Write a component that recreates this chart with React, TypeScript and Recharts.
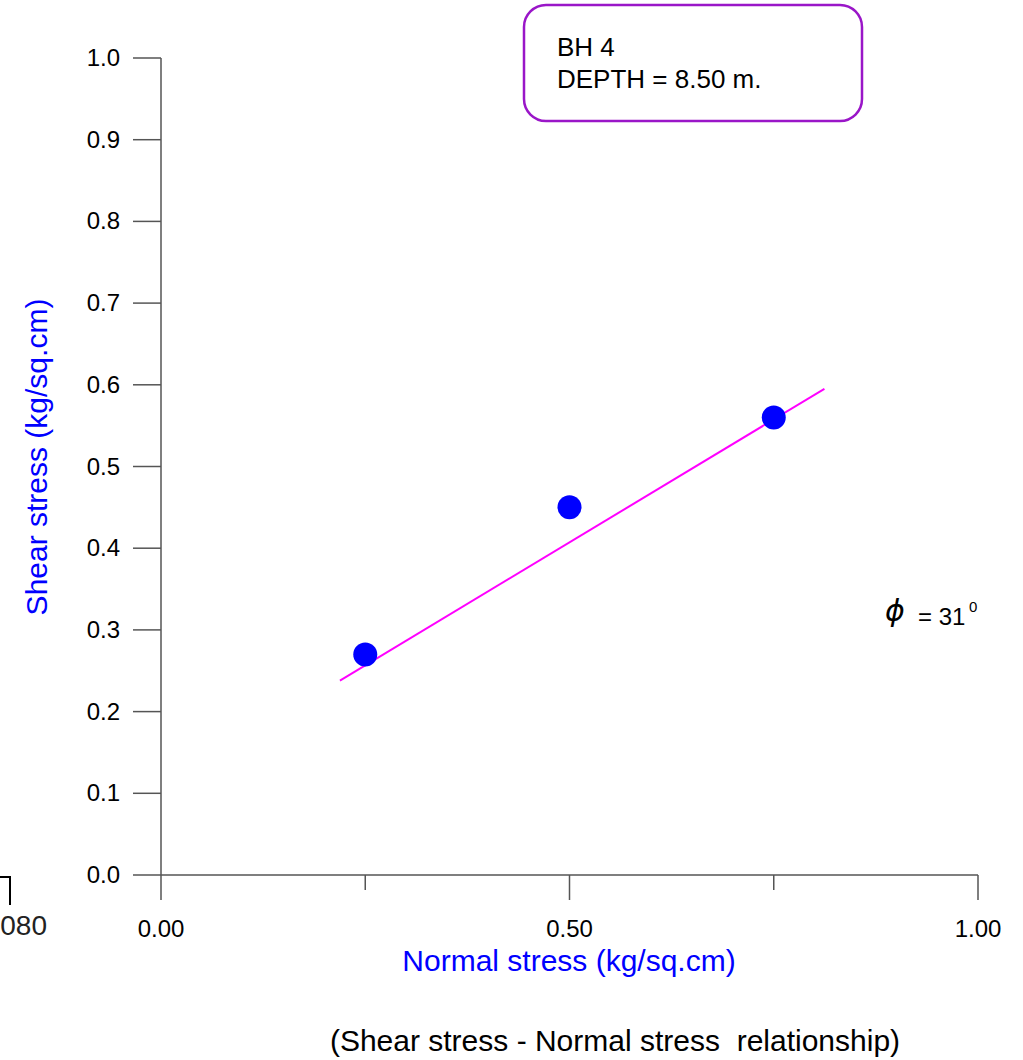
import { ComposedChart, Scatter, XAxis, YAxis, ReferenceLine } from 'recharts';

// Direct shear test results
const normalStress = [0.25, 0.5, 0.75];
const shearStress = [0.27, 0.45, 0.56];

// Failure envelope end points (phi = 31 deg)
const fitNormal = [0.219, 0.812];
const fitShear = [0.238, 0.595];

const xTicks = [0, 0.25, 0.5, 0.75, 1];
const xTickLabels = ['0.00', '', '0.50', '', '1.00'];
const yTicks = [0, 0.1, 0.2, 0.3, 0.4, 0.5, 0.6, 0.7, 0.8, 0.9, 1.0];
const yTickLabels = ['0.0', '0.1', '0.2', '0.3', '0.4', '0.5', '0.6', '0.7', '0.8', '0.9', '1.0'];

const FONT = '"Liberation Sans", Arial, sans-serif';
const AXIS = '#555';

const points = normalStress.map((x, i) => ({ x, y: shearStress[i] }));

const XTick = ({ x, y, index }: any) => {
  const label = xTickLabels[index] ?? '';
  const major = label !== '';
  return (
    <g>
      <line x1={x} y1={y} x2={x} y2={y + (major ? 25 : 15)} stroke={AXIS} strokeWidth={1.5} />
      {major && (
        <text x={x} y={y + 62} textAnchor="middle" fontSize={24} fontFamily={FONT} fill="#000">
          {label}
        </text>
      )}
    </g>
  );
};

const YTick = ({ x, y, index }: any) => (
  <g>
    <line x1={x - 28} y1={y} x2={x} y2={y} stroke={AXIS} strokeWidth={1.5} />
    <text x={x - 41} y={y + 8} textAnchor="end" fontSize={24} fontFamily={FONT} fill="#000">
      {yTickLabels[index]}
    </text>
  </g>
);

const Dot = ({ cx, cy }: any) => <circle cx={cx} cy={cy} r={12} fill="#0000FF" />;

export default function App() {
  return (
    <div style={{ position: 'absolute', left: 0, top: 0, width: 1023, height: 1060, background: '#fff' }}>
      <ComposedChart
        width={1023}
        height={1060}
        margin={{ top: 58, right: 45, bottom: 125, left: 101 }}
      >
        <XAxis
          type="number"
          dataKey="x"
          domain={[0, 1]}
          ticks={xTicks}
          interval={0}
          height={60}
          tickSize={0}
          tickMargin={0}
          tickLine={false}
          axisLine={{ stroke: AXIS, strokeWidth: 1.5 }}
          tick={<XTick />}
        />
        <YAxis
          type="number"
          dataKey="y"
          domain={[0, 1]}
          ticks={yTicks}
          interval={0}
          width={60}
          tickSize={0}
          tickMargin={0}
          tickLine={false}
          axisLine={{ stroke: AXIS, strokeWidth: 1.5 }}
          tick={<YTick />}
        />
        <ReferenceLine
          segment={[
            { x: fitNormal[0], y: fitShear[0] },
            { x: fitNormal[1], y: fitShear[1] },
          ]}
          stroke="#FF00FF"
          strokeWidth={2}
        />
        <Scatter data={points} shape={<Dot />} isAnimationActive={false} />
      </ComposedChart>

      {/* titles and annotations */}
      <svg
        width={1023}
        height={1060}
        style={{ position: 'absolute', left: 0, top: 0, pointerEvents: 'none' }}
        fontFamily={FONT}
      >
        <rect x={524} y={5} width={338} height={116} rx={22} ry={22} fill="none" stroke="#9A16C8" strokeWidth={2.5} />
        <text x={557} y={56} fontSize={26} fill="#000">BH 4</text>
        <text x={557} y={88} fontSize={26} fill="#000">DEPTH = 8.50 m.</text>

        <text x={885} y={621} fontSize={30} fill="#000" fontStyle="italic" fontFamily='"DejaVu Sans", sans-serif'>{'\u03D5'}</text>
        <text x={918} y={625} fontSize={24} fill="#000">= 31</text>
        <text x={969} y={612} fontSize={15} fill="#000">0</text>

        <text x={569} y={971} textAnchor="middle" fontSize={30} fill="#0000FF">Normal stress (kg/sq.cm)</text>
        <text
          x={47}
          y={457}
          textAnchor="middle"
          fontSize={30}
          fill="#0000FF"
          transform="rotate(-90 47 457)"
        >
          Shear stress (kg/sq.cm)
        </text>

        <text x={615} y={1051} textAnchor="middle" fontSize={30} fill="#000" style={{ whiteSpace: 'pre' }}>
          (Shear stress - Normal stress  relationship)
        </text>

        <path d="M0 877 H10 V905" fill="none" stroke="#000" strokeWidth={2} />
        <text x={47} y={935} textAnchor="end" fontSize={28} fill="#222">080</text>
      </svg>
    </div>
  );
}
